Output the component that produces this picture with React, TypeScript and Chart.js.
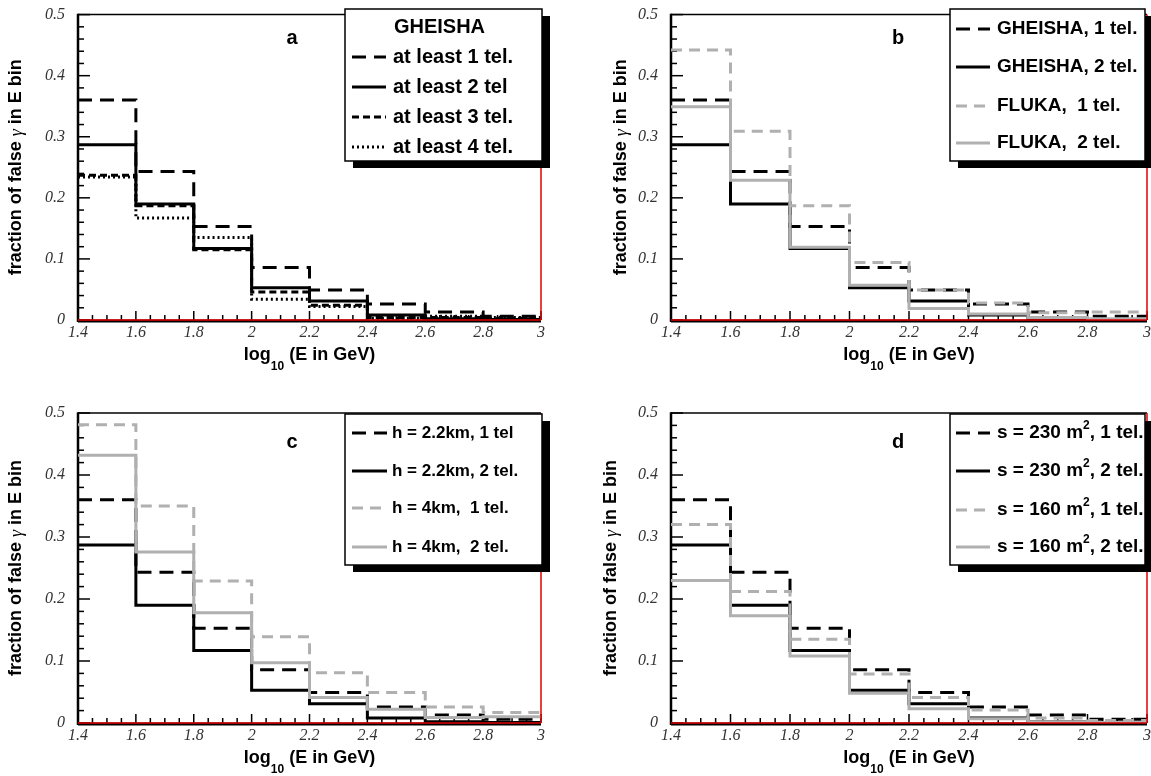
import React, { useEffect, useRef } from 'react';
import { Chart, registerables } from 'chart.js';
Chart.register(...registerables);

// ---------------- data ----------------
const binEdges = [1.4, 1.6, 1.8, 2.0, 2.2, 2.4, 2.6, 2.8, 3.0];
const xTickValues = [1.4, 1.6, 1.8, 2, 2.2, 2.4, 2.6, 2.8, 3];
const yTickValues = [0, 0.1, 0.2, 0.3, 0.4, 0.5];

const gheisha1Tel = [0.36, 0.243, 0.153, 0.086, 0.049, 0.026, 0.013, 0.006];
const gheisha2Tel = [0.287, 0.19, 0.117, 0.053, 0.031, 0.008, 0.002, 0.001];
const gheisha3Tel = [0.237, 0.187, 0.115, 0.046, 0.024, 0.004, 0.004, 0.003];
const gheisha4Tel = [0.234, 0.167, 0.135, 0.034, 0.022, 0.003, 0.006, 0.004];
const fluka1Tel = [0.442, 0.309, 0.187, 0.094, 0.049, 0.028, 0.012, 0.013];
const fluka2Tel = [0.349, 0.229, 0.119, 0.057, 0.019, 0.01, 0.004, 0.002];
const h4km1Tel = [0.481, 0.35, 0.229, 0.139, 0.081, 0.049, 0.026, 0.017];
const h4km2Tel = [0.432, 0.276, 0.178, 0.097, 0.041, 0.022, 0.009, 0.01];
const s160m1Tel = [0.32, 0.212, 0.135, 0.079, 0.041, 0.021, 0.008, 0.004];
const s160m2Tel = [0.23, 0.173, 0.108, 0.048, 0.023, 0.007, 0.002, 0.001];

const labelsA = ['at least 1 tel.', 'at least 2 tel', 'at least 3 tel.', 'at least 4 tel.'];
const labelsB = ['GHEISHA, 1 tel.', 'GHEISHA, 2 tel.', 'FLUKA,  1 tel.', 'FLUKA,  2 tel.'];
const labelsC = ['h = 2.2km, 1 tel', 'h = 2.2km, 2 tel.', 'h = 4km,  1 tel.', 'h = 4km,  2 tel.'];
const labelsD = ['s = 230 m², 1 tel.', 's = 230 m², 2 tel.', 's = 160 m², 1 tel.', 's = 160 m², 2 tel.'];

// ---------------- styles ----------------
const SERIF_I = (s: number) => `italic ${s}px 'Liberation Serif', 'Times New Roman', serif`;
const SANS_B = (s: number) => `bold ${s}px 'Liberation Sans', Arial, sans-serif`;
const GRAY = '#b0b0b0';
const BLACK = '#000000';

type Style = { color: string; dash: number[]; width: number };
const blackDash: Style = { color: BLACK, dash: [14, 8], width: 3 };
const blackSolid: Style = { color: BLACK, dash: [], width: 3 };
const blackShort: Style = { color: BLACK, dash: [7, 4], width: 3 };
const blackDot: Style = { color: BLACK, dash: [2, 3], width: 3 };
const grayDash: Style = { color: GRAY, dash: [11, 7], width: 3 };
const graySolid: Style = { color: GRAY, dash: [], width: 3 };

type Series = { label: string; values: number[]; style: Style };
type Spec = {
  x: number; y: number; w: number; h: number;
  area: { l: number; t: number; r: number; b: number };
  letter: string; letterPos: [number, number];
  yTitleX: number;
  legend: {
    x: number; y: number; w: number; h: number; font: number;
    header?: string; headerY?: number;
    rows: number[]; lx0: number; lx1: number; tx: number;
  };
  series: Series[];
};

const specs: Spec[] = [
  {
    x: 0, y: 0, w: 575, h: 388,
    area: { l: 78, t: 10, r: 541, b: 320 },
    letter: 'a', letterPos: [292, 38], yTitleX: 16,
    legend: { x: 345, y: 9, w: 197, h: 152, font: 20, header: 'GHEISHA', headerY: 27, rows: [57, 87, 117, 147], lx0: 352, lx1: 386, tx: 393 },
    series: [
      { label: labelsA[0], values: gheisha1Tel, style: blackDash },
      { label: labelsA[1], values: gheisha2Tel, style: blackSolid },
      { label: labelsA[2], values: gheisha3Tel, style: blackShort },
      { label: labelsA[3], values: gheisha4Tel, style: blackDot },
    ],
  },
  {
    x: 575, y: 0, w: 576, h: 388,
    area: { l: 96, t: 10, r: 572, b: 320 },
    letter: 'b', letterPos: [323, 38], yTitleX: 46,
    legend: { x: 375, y: 9, w: 195, h: 152, font: 19, rows: [29, 67, 106, 143], lx0: 381, lx1: 415, tx: 422 },
    series: [
      { label: labelsB[0], values: gheisha1Tel, style: blackDash },
      { label: labelsB[1], values: gheisha2Tel, style: blackSolid },
      { label: labelsB[2], values: fluka1Tel, style: grayDash },
      { label: labelsB[3], values: fluka2Tel, style: graySolid },
    ],
  },
  {
    x: 0, y: 388, w: 575, h: 388,
    area: { l: 78, t: 25, r: 541, b: 335 },
    letter: 'c', letterPos: [292, 54], yTitleX: 16,
    legend: { x: 345, y: 26, w: 197, h: 151, font: 17, rows: [45, 83, 120, 159], lx0: 352, lx1: 387, tx: 392 },
    series: [
      { label: labelsC[0], values: gheisha1Tel, style: blackDash },
      { label: labelsC[1], values: gheisha2Tel, style: blackSolid },
      { label: labelsC[2], values: h4km1Tel, style: grayDash },
      { label: labelsC[3], values: h4km2Tel, style: graySolid },
    ],
  },
  {
    x: 575, y: 388, w: 576, h: 388,
    area: { l: 96, t: 25, r: 572, b: 335 },
    letter: 'd', letterPos: [323, 54], yTitleX: 36,
    legend: { x: 375, y: 26, w: 195, h: 151, font: 19, rows: [45, 83, 122, 159], lx0: 381, lx1: 415, tx: 422 },
    series: [
      { label: labelsD[0], values: gheisha1Tel, style: blackDash },
      { label: labelsD[1], values: gheisha2Tel, style: blackSolid },
      { label: labelsD[2], values: s160m1Tel, style: grayDash },
      { label: labelsD[3], values: s160m2Tel, style: graySolid },
    ],
  },
];

// ---------------- helpers ----------------
type Seg = { t: string; font: string; dy?: number };
function drawSegs(ctx: CanvasRenderingContext2D, segs: Seg[], x: number, y: number, align: 'left' | 'center') {
  const widths = segs.map((s) => { ctx.font = s.font; return ctx.measureText(s.t).width; });
  const total = widths.reduce((a, b) => a + b, 0);
  let cx = align === 'center' ? x - total / 2 : x;
  ctx.textBaseline = 'middle';
  ctx.textAlign = 'left';
  segs.forEach((s, i) => {
    ctx.font = s.font;
    ctx.fillText(s.t, cx, y + (s.dy || 0));
    cx += widths[i];
  });
}

function labelSegs(label: string, size: number): Seg[] {
  const parts = label.split('²');
  if (parts.length === 1) return [{ t: label, font: SANS_B(size) }];
  return [
    { t: parts[0], font: SANS_B(size) },
    { t: '2', font: SANS_B(Math.round(size * 0.62)), dy: -7 },
    { t: parts[1], font: SANS_B(size) },
  ];
}

function line(ctx: CanvasRenderingContext2D, x0: number, y0: number, x1: number, y1: number) {
  ctx.beginPath();
  ctx.moveTo(x0, y0);
  ctx.lineTo(x1, y1);
  ctx.stroke();
}

const fmt = (v: any) => String(Math.round(Number(v) * 100) / 100);

function makeConfig(spec: Spec): any {
  const XH = 30;
  const decor = {
    id: 'decor',
    beforeDatasetsDraw(chart: any) {
      const ctx: CanvasRenderingContext2D = chart.ctx;
      const { left, right, top, bottom } = chart.chartArea;
      ctx.save();
      ctx.setLineDash([]);
      ctx.strokeStyle = '#000';
      ctx.lineWidth = 1.5;
      line(ctx, left, top, right, top);
      ctx.lineWidth = 2.5;
      line(ctx, left, top - 0.75, left, bottom + 2);
      ctx.lineWidth = 3;
      line(ctx, left, bottom + 1, right, bottom + 1);
      // ticks
      const xs = chart.scales.x, ys = chart.scales.y;
      ctx.lineWidth = 1.5;
      for (let k = 0; k <= 25; k++) {
        const py = ys.getPixelForValue(k * 0.02);
        const len = k % 5 === 0 ? 12 : 6;
        line(ctx, left, py, left + len, py);
      }
      for (let k = 0; k <= 32; k++) {
        const px = xs.getPixelForValue(1.4 + k * 0.05);
        const len = k % 4 === 0 ? 9 : 5;
        line(ctx, px, bottom, px, bottom - len);
      }
      ctx.restore();
    },
    afterDraw(chart: any) {
      const ctx: CanvasRenderingContext2D = chart.ctx;
      const { left, right, top, bottom } = chart.chartArea;
      ctx.save();
      ctx.setLineDash([]);
      // red frame lines
      ctx.strokeStyle = '#e00000';
      ctx.lineWidth = 1.5;
      line(ctx, left, bottom, right, bottom);
      line(ctx, right, bottom, right, top);
      // legend
      const L = spec.legend;
      ctx.fillStyle = '#000';
      ctx.fillRect(L.x + 8, L.y + 7, L.w, L.h);
      ctx.fillStyle = '#fff';
      ctx.fillRect(L.x, L.y, L.w, L.h);
      ctx.strokeStyle = '#000';
      ctx.lineWidth = 1.5;
      ctx.strokeRect(L.x, L.y, L.w, L.h);
      ctx.fillStyle = '#000';
      if (L.header) {
        ctx.font = SANS_B(20);
        ctx.textAlign = 'center';
        ctx.textBaseline = 'middle';
        ctx.fillText(L.header, L.x + L.w / 2 - 4, L.headerY!);
      }
      spec.series.forEach((s, i) => {
        const yy = L.rows[i];
        ctx.strokeStyle = s.style.color;
        ctx.lineWidth = s.style.width;
        ctx.setLineDash(s.style.dash);
        line(ctx, L.lx0, yy, L.lx1, yy);
        ctx.setLineDash([]);
        ctx.fillStyle = '#000';
        drawSegs(ctx, labelSegs(s.label, L.font), L.tx, yy, 'left');
      });
      // panel letter
      ctx.fillStyle = '#000';
      ctx.font = SANS_B(20);
      ctx.textAlign = 'center';
      ctx.textBaseline = 'middle';
      ctx.fillText(spec.letter, spec.letterPos[0], spec.letterPos[1]);
      // x title
      drawSegs(ctx, [
        { t: 'log', font: SANS_B(18) },
        { t: '10', font: SANS_B(12), dy: 12 },
        { t: ' (E in GeV)', font: SANS_B(18) },
      ], (left + right) / 2, bottom + 35, 'center');
      // y title
      ctx.save();
      ctx.translate(spec.yTitleX, (top + bottom) / 2);
      ctx.rotate(-Math.PI / 2);
      drawSegs(ctx, [
        { t: 'fraction of false ', font: SANS_B(18) },
        { t: 'γ', font: SERIF_I(18), dy: 1 },
        { t: ' in E bin', font: SANS_B(18) },
      ], 0, 0, 'center');
      ctx.restore();
      ctx.restore();
    },
  };

  const n = spec.series.length;
  const tickFont = { family: "'Liberation Serif', 'Times New Roman', serif", style: 'italic', size: 16 };
  return {
    type: 'line',
    data: {
      datasets: spec.series.map((s, i) => ({
        label: s.label,
        data: [
          ...s.values.map((v, k) => ({ x: binEdges[k], y: v })),
          { x: binEdges[binEdges.length - 1], y: s.values[s.values.length - 1] },
        ],
        borderColor: s.style.color,
        borderDash: s.style.dash,
        borderWidth: s.style.width,
        pointRadius: 0,
        fill: false,
        stepped: 'before',
        order: n - i,
      })),
    },
    options: {
      responsive: false,
      animation: false,
      devicePixelRatio: 1,
      layout: {
        padding: { left: 0, top: spec.area.t, right: spec.w - spec.area.r, bottom: spec.h - spec.area.b - XH },
      },
      plugins: { legend: { display: false }, tooltip: { enabled: false }, title: { display: false } },
      scales: {
        x: {
          type: 'linear', min: 1.4, max: 3,
          grid: { display: false }, border: { display: false },
          afterBuildTicks: (s: any) => { s.ticks = xTickValues.map((v) => ({ value: v })); },
          afterFit: (s: any) => { s.height = XH; },
          ticks: { font: tickFont, color: '#333', padding: -5, maxRotation: 0, autoSkip: false, callback: fmt },
        },
        y: {
          type: 'linear', min: 0, max: 0.5,
          grid: { display: false }, border: { display: false },
          afterBuildTicks: (s: any) => { s.ticks = yTickValues.map((v) => ({ value: v })); },
          afterFit: (s: any) => { s.width = spec.area.l; },
          ticks: { font: tickFont, color: '#333', padding: 5, autoSkip: false, callback: fmt },
        },
      },
    },
    plugins: [decor],
  };
}

function Panel({ spec }: { spec: Spec }) {
  const ref = useRef<HTMLCanvasElement>(null);
  useEffect(() => {
    const chart = new Chart(ref.current as HTMLCanvasElement, makeConfig(spec));
    return () => chart.destroy();
  }, [spec]);
  return (
    <canvas
      ref={ref}
      width={spec.w}
      height={spec.h}
      style={{ position: 'absolute', left: spec.x, top: spec.y, width: spec.w, height: spec.h, display: 'block' }}
    />
  );
}

export default function App() {
  return (
    <div style={{ position: 'absolute', left: 0, top: 0, width: 1151, height: 776, background: '#fff', overflow: 'hidden' }}>
      {specs.map((s, i) => (
        <Panel key={i} spec={s} />
      ))}
    </div>
  );
}
